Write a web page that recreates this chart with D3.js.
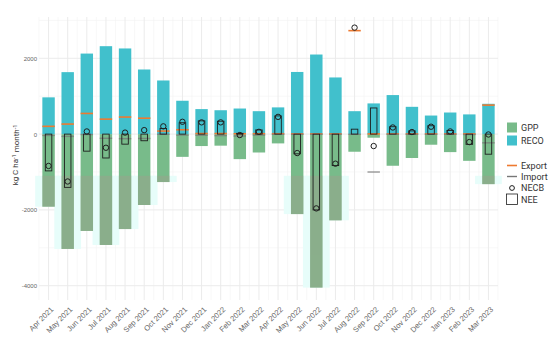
<!DOCTYPE html>
<html>
<head>
<meta charset="utf-8">
<script src="https://cdn.jsdelivr.net/npm/d3@7"></script>
<style>
  body { margin: 0; background: #fff; }
  svg { font-family: Roboto, "Liberation Sans", sans-serif; }
</style>
</head>
<body>
<svg id="chart" width="550" height="344"></svg>
<script>
var months = ["Apr 2021", "May 2021", "Jun 2021", "Jul 2021", "Aug 2021", "Sep 2021",
  "Oct 2021", "Nov 2021", "Dec 2021", "Jan 2022", "Feb 2022", "Mar 2022",
  "Apr 2022", "May 2022", "Jun 2022", "Jul 2022", "Aug 2022", "Sep 2022",
  "Oct 2022", "Nov 2022", "Dec 2022", "Jan 2023", "Feb 2023", "Mar 2023"];
var reco = [970, 1635, 2125, 2320, 2260, 1705, 1415, 880, 660, 630, 675, 605,
  705, 1640, 2100, 1495, 605, 810, 1030, 720, 490, 570, 520, 800];
var gpp = [-1915, -3030, -2555, -2925, -2505, -1870, -1265, -600, -315, -305, -660, -485,
  -245, -2110, -4050, -2275, -465, -95, -835, -630, -280, -475, -705, -1320];
var exportC = [205, 265, 545, 395, 450, 420, 80, 115, 15, 15, 10, 10,
  10, 5, 5, 5, 2730, 5, 5, 5, 5, 5, 5, 765];
var importC = [-35, -60, -10, -110, -120, -115, -5, -25, -30, -40, -50, -25,
  -5, -5, -5, -5, -5, -1000, -5, -5, -5, -5, -10, -230];
var nee = [-970, -1405, -450, -630, -265, -175, 150, 300, 350, 340, 20, 110,
  480, -520, -2000, -830, 130, 690, 195, 85, 220, 95, -270, -530];
var necb = [-840, -1250, 70, -360, 40, 105, 205, 325, 310, 310, -25, 60,
  455, -500, -1960, -780, 2810, -315, 175, 55, 195, 70, -210, -10];
var yTicks = [-4000, -2000, 0, 2000];
var yMinor = [-3000, -1000, 1000, 3000];
var shadeTop = -1100;

var svg = d3.select("#chart");
var pLeft = 39, pRight = 498, pTop = 17, pBottom = 300;

var x = d3.scalePoint().domain(months).range([pLeft, pRight]).padding(0.5);
var y = d3.scaleLinear().domain([-4377, 3090]).range([pBottom, pTop]);
var step = x.step();
var bw = step * 0.65;

var data = months.map(function (m, i) {
  return { month: m, reco: reco[i], gpp: gpp[i], exp: exportC[i], imp: importC[i], nee: nee[i], necb: necb[i] };
});

// grid
var grid = svg.append("g");
grid.selectAll("line.hmin").data(yMinor).join("line")
  .attr("x1", pLeft).attr("x2", pRight)
  .attr("y1", function (d) { return y(d); }).attr("y2", function (d) { return y(d); })
  .attr("stroke", "#f3f3f3").attr("stroke-width", 0.6);
grid.selectAll("line.vmin").data(d3.range(months.length + 1)).join("line")
  .attr("x1", function (i) { return pLeft + i * step; }).attr("x2", function (i) { return pLeft + i * step; })
  .attr("y1", pTop).attr("y2", pBottom)
  .attr("stroke", "#f3f3f3").attr("stroke-width", 0.6);
grid.selectAll("line.hmaj").data(yTicks).join("line")
  .attr("x1", pLeft).attr("x2", pRight)
  .attr("y1", function (d) { return y(d); }).attr("y2", function (d) { return y(d); })
  .attr("stroke", "#ebebeb").attr("stroke-width", 1);
grid.selectAll("line.vmaj").data(months).join("line")
  .attr("x1", function (d) { return x(d); }).attr("x2", function (d) { return x(d); })
  .attr("y1", pTop).attr("y2", pBottom)
  .attr("stroke", "#ebebeb").attr("stroke-width", 1);

// pale halo behind the deepest GPP bars
var deep = data.filter(function (d) { return d.gpp < shadeTop; });
svg.append("g").attr("fill", "#e7fdfa")
  .selectAll("rect").data(deep).join("rect")
  .attr("x", function (d) { return x(d.month) - step * 0.7; })
  .attr("width", step * 1.4)
  .attr("y", y(shadeTop))
  .attr("height", function (d) { return y(d.gpp) - y(shadeTop); });

// bars
svg.append("g").attr("fill", "#78bb8a")
  .selectAll("rect").data(data).join("rect")
  .attr("x", function (d) { return x(d.month) - bw / 2; })
  .attr("width", bw)
  .attr("y", y(0))
  .attr("height", function (d) { return y(d.gpp) - y(0); });
svg.append("g").attr("fill", "#41c0cc")
  .selectAll("rect").data(data).join("rect")
  .attr("x", function (d) { return x(d.month) - bw / 2; })
  .attr("width", bw)
  .attr("y", function (d) { return y(d.reco); })
  .attr("height", function (d) { return y(0) - y(d.reco); });
svg.append("g").attr("fill", "#c08a8e").attr("opacity", 0.25)
  .selectAll("rect").data(deep).join("rect")
  .attr("x", function (d) { return x(d.month) - bw / 2; })
  .attr("width", bw)
  .attr("y", y(shadeTop))
  .attr("height", function (d) { return y(d.gpp) - y(shadeTop); });

// export / import
svg.append("g").attr("stroke", "#ee7a30").attr("stroke-width", 1.6)
  .selectAll("line").data(data).join("line")
  .attr("x1", function (d) { return x(d.month) - bw / 2; })
  .attr("x2", function (d) { return x(d.month) + bw / 2; })
  .attr("y1", function (d) { return y(d.exp); }).attr("y2", function (d) { return y(d.exp); });
svg.append("g").attr("stroke", "#777").attr("stroke-width", 1.4).attr("opacity", 0.75)
  .selectAll("line").data(data).join("line")
  .attr("x1", function (d) { return x(d.month) - bw / 2; })
  .attr("x2", function (d) { return x(d.month) + bw / 2; })
  .attr("y1", function (d) { return y(d.imp); }).attr("y2", function (d) { return y(d.imp); });

// NEE boxes and NECB points
var nw = step * 0.34;
svg.append("g").attr("fill", "none").attr("stroke", "#1e1e1e").attr("stroke-width", 0.9)
  .selectAll("rect").data(data).join("rect")
  .attr("x", function (d) { return x(d.month) - nw / 2; })
  .attr("width", nw)
  .attr("y", function (d) { return y(Math.max(0, d.nee)); })
  .attr("height", function (d) { return Math.abs(y(d.nee) - y(0)); });
svg.append("g").attr("fill", "none").attr("stroke", "#1e1e1e").attr("stroke-width", 1)
  .selectAll("circle").data(data).join("circle")
  .attr("cx", function (d) { return x(d.month); })
  .attr("cy", function (d) { return y(d.necb); })
  .attr("r", 2.7);

// axes
var yAxis = function (g) { return g
  .attr("transform", "translate(" + (pLeft - 1) + ",0)")
  .call(d3.axisLeft(y).tickValues(yTicks).tickSize(0).tickPadding(1)
    .tickFormat(function (d) { return String(d); }))
  .call(function (g) { g.select(".domain").remove(); })
  .selectAll("text").attr("font-size", "6px").attr("fill", "#666"); };
var xAxis = function (g) { return g
  .attr("transform", "translate(0," + pBottom + ")")
  .call(d3.axisBottom(x).tickSize(0))
  .call(function (g) { g.select(".domain").remove(); })
  .selectAll("text")
  .attr("font-size", "7.6px").attr("fill", "#666")
  .attr("y", 0).attr("dy", "0.35em")
  .attr("transform", "translate(3,8) rotate(-45)")
  .style("text-anchor", "end"); };
svg.append("g").call(yAxis);
svg.append("g").call(xAxis);

// y label
var yl = svg.append("text")
  .attr("transform", "translate(18,155) rotate(-90)")
  .attr("text-anchor", "middle")
  .attr("font-size", "8px").attr("fill", "#333");
yl.append("tspan").text("kg C ha");
yl.append("tspan").attr("dy", "-0.45em").attr("font-size", "5.5px").text("-1");
yl.append("tspan").attr("dy", "0.45em").text(" month");
yl.append("tspan").attr("dy", "-0.45em").attr("font-size", "5.5px").text("-1");

// legend
var lg = svg.append("g").attr("font-size", "9px").attr("fill", "#333");
var lx = 507;
lg.append("rect").attr("x", lx).attr("y", 122.5).attr("width", 10).attr("height", 10).attr("fill", "#78bb8a");
lg.append("rect").attr("x", lx).attr("y", 135.5).attr("width", 10).attr("height", 10).attr("fill", "#41c0cc");
lg.append("line").attr("x1", lx).attr("x2", lx + 10).attr("y1", 165.5).attr("y2", 165.5).attr("stroke", "#ee7a30").attr("stroke-width", 1.6);
lg.append("line").attr("x1", lx).attr("x2", lx + 10).attr("y1", 176.5).attr("y2", 176.5).attr("stroke", "#777").attr("stroke-width", 1.4);
lg.append("circle").attr("cx", lx + 5).attr("cy", 188).attr("r", 2.4).attr("fill", "none").attr("stroke", "#1e1e1e");
lg.append("rect").attr("x", lx - 0.5).attr("y", 194).attr("width", 11).attr("height", 10.5).attr("fill", "none").attr("stroke", "#1e1e1e").attr("stroke-width", 0.8);
var labels = [["GPP", 127.5], ["RECO", 140.5], ["Export", 165.5], ["Import", 176.5], ["NECB", 188], ["NEE", 199.5]];
lg.selectAll("text").data(labels).join("text")
  .attr("x", 521).attr("y", function (d) { return d[1]; }).attr("dy", "0.35em")
  .text(function (d) { return d[0]; });
</script>
</body>
</html>
